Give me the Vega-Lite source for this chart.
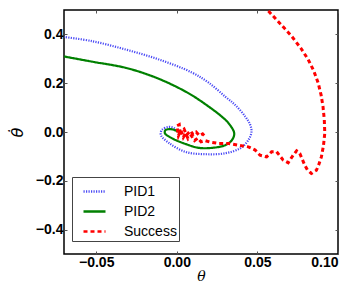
{
  "$schema": "https://vega.github.io/schema/vega-lite/v6.json",
  "autosize": "none",
  "width": 274,
  "height": 244,
  "padding": {"left": 64, "top": 10, "right": 22, "bottom": 35},
  "background": "white",
  "config": {
    "view": {"stroke": "black", "strokeWidth": 1.5},
    "axis": {"grid": false, "domain": false, "tickColor": "#555555", "tickSize": -3, "tickWidth": 1, "labelFont": "Liberation Sans", "labelFontWeight": "bold", "labelFontSize": 14, "labelColor": "black", "titleColor": "black"},
    "legend": {"labelFont": "Liberation Sans", "labelFontSize": 14, "labelColor": "black"}
  },
  "datasets": {
    "curves": [
      {"series": "PID1", "order": 1, "theta": -0.0704, "dtheta": 0.390},
      {"series": "PID1", "order": 2, "theta": -0.0523, "dtheta": 0.372},
      {"series": "PID1", "order": 3, "theta": -0.0317, "dtheta": 0.338},
      {"series": "PID1", "order": 4, "theta": -0.0110, "dtheta": 0.297},
      {"series": "PID1", "order": 5, "theta": 0.0093, "dtheta": 0.244},
      {"series": "PID1", "order": 6, "theta": 0.0198, "dtheta": 0.202},
      {"series": "PID1", "order": 7, "theta": 0.0302, "dtheta": 0.144},
      {"series": "PID1", "order": 8, "theta": 0.0362, "dtheta": 0.111},
      {"series": "PID1", "order": 9, "theta": 0.0426, "dtheta": 0.062},
      {"series": "PID1", "order": 10, "theta": 0.0455, "dtheta": 0.030},
      {"series": "PID1", "order": 11, "theta": 0.0463, "dtheta": 0.000},
      {"series": "PID1", "order": 12, "theta": 0.0444, "dtheta": -0.033},
      {"series": "PID1", "order": 13, "theta": 0.0395, "dtheta": -0.066},
      {"series": "PID1", "order": 14, "theta": 0.0302, "dtheta": -0.087},
      {"series": "PID1", "order": 15, "theta": 0.0179, "dtheta": -0.091},
      {"series": "PID1", "order": 16, "theta": 0.0056, "dtheta": -0.082},
      {"series": "PID1", "order": 17, "theta": -0.0049, "dtheta": -0.045},
      {"series": "PID1", "order": 18, "theta": -0.0099, "dtheta": -0.012},
      {"series": "PID1", "order": 19, "theta": -0.0093, "dtheta": 0.008},
      {"series": "PID1", "order": 20, "theta": -0.0049, "dtheta": 0.021},
      {"series": "PID1", "order": 21, "theta": -0.0019, "dtheta": 0.016},
      {"series": "PID1", "order": 22, "theta": 0.0000, "dtheta": 0.006},
      {"series": "PID2", "order": 1, "theta": -0.0704, "dtheta": 0.310},
      {"series": "PID2", "order": 2, "theta": -0.0523, "dtheta": 0.288},
      {"series": "PID2", "order": 3, "theta": -0.0317, "dtheta": 0.263},
      {"series": "PID2", "order": 4, "theta": -0.0150, "dtheta": 0.228},
      {"series": "PID2", "order": 5, "theta": -0.0008, "dtheta": 0.187},
      {"series": "PID2", "order": 6, "theta": 0.0100, "dtheta": 0.148},
      {"series": "PID2", "order": 7, "theta": 0.0198, "dtheta": 0.104},
      {"series": "PID2", "order": 8, "theta": 0.0270, "dtheta": 0.068},
      {"series": "PID2", "order": 9, "theta": 0.0321, "dtheta": 0.036},
      {"series": "PID2", "order": 10, "theta": 0.0356, "dtheta": -0.005},
      {"series": "PID2", "order": 11, "theta": 0.0342, "dtheta": -0.033},
      {"series": "PID2", "order": 12, "theta": 0.0300, "dtheta": -0.054},
      {"series": "PID2", "order": 13, "theta": 0.0218, "dtheta": -0.065},
      {"series": "PID2", "order": 14, "theta": 0.0136, "dtheta": -0.065},
      {"series": "PID2", "order": 15, "theta": 0.0054, "dtheta": -0.049},
      {"series": "PID2", "order": 16, "theta": -0.0029, "dtheta": -0.026},
      {"series": "PID2", "order": 17, "theta": -0.0074, "dtheta": -0.005},
      {"series": "PID2", "order": 18, "theta": -0.0070, "dtheta": 0.008},
      {"series": "PID2", "order": 19, "theta": -0.0029, "dtheta": 0.011},
      {"series": "PID2", "order": 20, "theta": 0.0010, "dtheta": 0.001}
    ],
    "success": [
      {"series": "Success", "order": 1, "theta": 0.0568, "dtheta": 0.496},
      {"series": "Success", "order": 2, "theta": 0.0640, "dtheta": 0.445},
      {"series": "Success", "order": 3, "theta": 0.0712, "dtheta": 0.393},
      {"series": "Success", "order": 4, "theta": 0.0770, "dtheta": 0.343},
      {"series": "Success", "order": 5, "theta": 0.0815, "dtheta": 0.297},
      {"series": "Success", "order": 6, "theta": 0.0850, "dtheta": 0.250},
      {"series": "Success", "order": 7, "theta": 0.0877, "dtheta": 0.201},
      {"series": "Success", "order": 8, "theta": 0.0895, "dtheta": 0.152},
      {"series": "Success", "order": 9, "theta": 0.0907, "dtheta": 0.104},
      {"series": "Success", "order": 10, "theta": 0.0915, "dtheta": 0.050},
      {"series": "Success", "order": 11, "theta": 0.0918, "dtheta": -0.005},
      {"series": "Success", "order": 12, "theta": 0.0910, "dtheta": -0.055},
      {"series": "Success", "order": 13, "theta": 0.0897, "dtheta": -0.102},
      {"series": "Success", "order": 14, "theta": 0.0880, "dtheta": -0.135},
      {"series": "Success", "order": 15, "theta": 0.0866, "dtheta": -0.157},
      {"series": "Success", "order": 16, "theta": 0.0835, "dtheta": -0.170},
      {"series": "Success", "order": 17, "theta": 0.0810, "dtheta": -0.155},
      {"series": "Success", "order": 18, "theta": 0.0794, "dtheta": -0.136},
      {"series": "Success", "order": 19, "theta": 0.0763, "dtheta": -0.088},
      {"series": "Success", "order": 20, "theta": 0.0743, "dtheta": -0.077},
      {"series": "Success", "order": 21, "theta": 0.0722, "dtheta": -0.095},
      {"series": "Success", "order": 22, "theta": 0.0691, "dtheta": -0.126},
      {"series": "Success", "order": 23, "theta": 0.0660, "dtheta": -0.115},
      {"series": "Success", "order": 24, "theta": 0.0619, "dtheta": -0.081},
      {"series": "Success", "order": 25, "theta": 0.0588, "dtheta": -0.081},
      {"series": "Success", "order": 26, "theta": 0.0557, "dtheta": -0.102},
      {"series": "Success", "order": 27, "theta": 0.0516, "dtheta": -0.095},
      {"series": "Success", "order": 28, "theta": 0.0486, "dtheta": -0.074},
      {"series": "Success", "order": 29, "theta": 0.0444, "dtheta": -0.061},
      {"series": "Success", "order": 30, "theta": 0.0383, "dtheta": -0.054},
      {"series": "Success", "order": 31, "theta": 0.0321, "dtheta": -0.047},
      {"series": "Success", "order": 32, "theta": 0.0260, "dtheta": -0.047},
      {"series": "Success", "order": 33, "theta": 0.0210, "dtheta": -0.042},
      {"series": "Success", "order": 34, "theta": 0.0175, "dtheta": -0.035},
      {"series": "Success", "order": 35, "theta": 0.0150, "dtheta": -0.040},
      {"series": "Success", "order": 36, "theta": 0.0130, "dtheta": -0.025},
      {"series": "Success", "order": 37, "theta": 0.0110, "dtheta": -0.035},
      {"series": "Success", "order": 38, "theta": 0.0090, "dtheta": -0.015},
      {"series": "Success", "order": 39, "theta": 0.0070, "dtheta": -0.028},
      {"series": "Success", "order": 40, "theta": 0.0055, "dtheta": -0.005},
      {"series": "Success", "order": 41, "theta": 0.0040, "dtheta": -0.022},
      {"series": "Success", "order": 42, "theta": 0.0025, "dtheta": 0.008},
      {"series": "Success", "order": 43, "theta": 0.0010, "dtheta": -0.015},
      {"series": "Success", "order": 44, "theta": 0.0000, "dtheta": 0.025},
      {"series": "Success", "order": 45, "theta": 0.0015, "dtheta": 0.030},
      {"series": "Success", "order": 46, "theta": 0.0020, "dtheta": 0.000},
      {"series": "Success", "order": 47, "theta": 0.0045, "dtheta": 0.012},
      {"series": "Success", "order": 48, "theta": 0.0060, "dtheta": -0.012},
      {"series": "Success", "order": 49, "theta": 0.0085, "dtheta": 0.005},
      {"series": "Success", "order": 50, "theta": 0.0100, "dtheta": -0.010},
      {"series": "Success", "order": 51, "theta": 0.0120, "dtheta": 0.000},
      {"series": "Success", "order": 52, "theta": 0.0140, "dtheta": -0.015},
      {"series": "Success", "order": 53, "theta": 0.0160, "dtheta": -0.008},
      {"series": "Success", "order": 54, "theta": 0.0180, "dtheta": -0.022}
    ]
  },
  "layer": [
    {
      "data": {"name": "curves"},
      "mark": {"type": "line", "interpolate": "catmull-rom", "strokeWidth": 2.2, "clip": true},
      "encoding": {
        "x": {"field": "theta", "type": "quantitative", "scale": {"domain": [-0.07, 0.10], "nice": false, "zero": false}, "axis": {"values": [-0.05, 0, 0.05, 0.1], "format": ".2f", "title": "θ", "titleFont": "DejaVu Serif", "titleFontStyle": "italic", "titleFontWeight": "normal", "titleFontSize": 14, "labelPadding": 4, "titlePadding": 0}},
        "y": {"field": "dtheta", "type": "quantitative", "scale": {"domain": [-0.5, 0.5], "nice": false, "zero": false}, "axis": {"values": [-0.4, -0.2, 0, 0.2, 0.4], "format": ".1f", "title": "θ̇", "titleFont": "DejaVu Sans", "titleFontStyle": "oblique", "titleFontWeight": "normal", "titleFontSize": 16, "labelPadding": 4, "titlePadding": 10}},
        "color": {"field": "series", "type": "nominal", "scale": {"domain": ["PID1", "PID2", "Success"], "range": ["#4a4af5", "#008000", "#ff0000"]},
          "legend": {"title": null, "orient": "none", "legendX": 8, "legendY": 167, "symbolType": "stroke", "symbolSize": 484, "symbolStrokeWidth": 2.5, "symbolOffset": 8, "labelOffset": 17, "rowPadding": 0, "padding": 2, "strokeColor": "#444444", "fillColor": "white", "cornerRadius": 0}},
        "strokeDash": {"field": "series", "type": "nominal", "scale": {"domain": ["PID1", "PID2", "Success"], "range": [[1.2, 1.3], [1, 0], [4, 3]]}},
        "order": {"field": "order", "type": "quantitative"}
      }
    },
    {
      "data": {"name": "success"},
      "mark": {"type": "line", "interpolate": "linear", "strokeWidth": 3, "clip": true},
      "encoding": {
        "x": {"field": "theta", "type": "quantitative", "axis": null},
        "y": {"field": "dtheta", "type": "quantitative", "axis": null},
        "color": {"field": "series", "type": "nominal"},
        "strokeDash": {"field": "series", "type": "nominal"},
        "order": {"field": "order", "type": "quantitative"}
      }
    },
    {
      "data": {"name": "success"},
      "mark": {"type": "point", "opacity": 0},
      "encoding": {
        "x": {"field": "theta", "type": "quantitative", "axis": {"orient": "top", "values": [-0.05, 0, 0.05, 0.1], "labels": false, "title": null}},
        "y": {"field": "dtheta", "type": "quantitative", "axis": {"orient": "right", "values": [-0.4, -0.2, 0, 0.2, 0.4], "labels": false, "title": null}}
      }
    }
  ],
  "resolve": {"axis": {"x": "independent", "y": "independent"}}
}
